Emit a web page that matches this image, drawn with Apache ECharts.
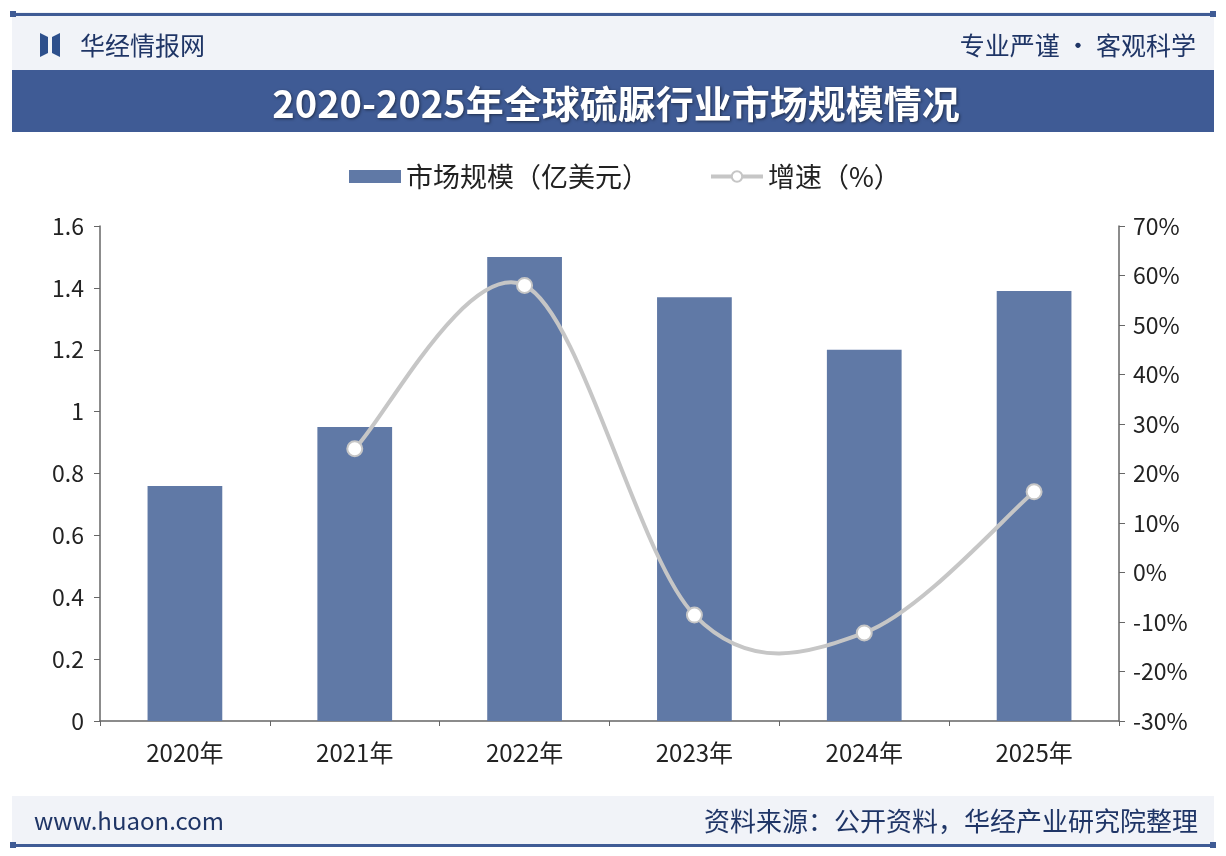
<!DOCTYPE html>
<html><head><meta charset="utf-8">
<script src="https://cdn.jsdelivr.net/npm/echarts@6/dist/echarts.min.js"></script>
<style>html,body{margin:0;padding:0;background:#fff}#c{width:1226px;height:856px}</style>
</head><body><div id="c"></div>
<script>
const categories = ['2020年','2021年','2022年','2023年','2024年','2025年'];
const marketSize = [0.76, 0.95, 1.50, 1.37, 1.20, 1.39];
const growth = [null, 25, 58, -8.6, -12.2, 16.3];
const leftTicks = {min:0, max:1.6, interval:0.2};
const rightTicks = {min:-30, max:70, interval:10};

const font = '"Noto Sans CJK SC", "Noto Sans", sans-serif';
const chart = echarts.init(document.getElementById('c'));

function splineItem(params, api){
  const pts = [];
  growth.forEach((v,i)=>{ if(v!==null && v!==undefined) pts.push(api.coord([i, v])); });
  if(pts.length<2) return null;
  let d = 'M'+pts[0][0]+' '+pts[0][1];
  for(let i=0;i<pts.length-1;i++){
    const p0 = pts[i-1]||pts[i], p1 = pts[i], p2 = pts[i+1], p3 = pts[i+2]||pts[i+1];
    const t = 1/6;
    const c1 = [p1[0]+(p2[0]-p0[0])*t, p1[1]+(p2[1]-p0[1])*t];
    const c2 = [p2[0]-(p3[0]-p1[0])*t, p2[1]-(p3[1]-p1[1])*t];
    d += ' C'+c1[0]+' '+c1[1]+' '+c2[0]+' '+c2[1]+' '+p2[0]+' '+p2[1];
  }
  return {type:'path',shape:{pathData:d},style:{stroke:'#c6c6c6',lineWidth:4,fill:null}};
}

chart.setOption({
  backgroundColor:'#fff',
  textStyle:{fontFamily:font},
  graphic:[
    {type:'rect',shape:{x:12,y:12,width:1202,height:58},style:{fill:'#f1f3f8'},z:-1},
    {type:'rect',shape:{x:12,y:13,width:1202,height:3},style:{fill:'#3f5b95'}},
    {type:'rect',shape:{x:10,y:11,width:6,height:6},style:{fill:'#3f5b95'}},
    {type:'rect',shape:{x:1210,y:11,width:6,height:6},style:{fill:'#3f5b95'}},
    {type:'polygon',shape:{points:[[40,33],[48,37],[48,53],[40,57]]},style:{fill:'#2d4f8c'}},
    {type:'polygon',shape:{points:[[52,37],[60,33],[60,57],[52,53]]},style:{fill:'#2d4f8c'}},
    {type:'text',x:80,y:45,style:{text:'华经情报网',font:'25px '+font,fill:'#1f3566',verticalAlign:'middle'}},
    {type:'text',x:1196,y:45,style:{text:'专业严谨 • 客观科学',font:'25px '+font,fill:'#1f3566',align:'right',verticalAlign:'middle'}},
    {type:'rect',shape:{x:12,y:70,width:1202,height:62},style:{fill:'#3f5b95'}},
    {type:'text',x:616,y:104,style:{text:'2020-2025年全球硫脲行业市场规模情况',font:'bold 38px '+font,fill:'#ffffff',align:'center',verticalAlign:'middle',textShadowColor:'rgba(0,0,0,0.5)',textShadowBlur:3,textShadowOffsetX:1,textShadowOffsetY:1}},
    {type:'rect',shape:{x:12,y:796,width:1202,height:48},style:{fill:'#f1f3f8'},z:-1},
    {type:'rect',shape:{x:12,y:844,width:1202,height:3},style:{fill:'#3f5b95'}},
    {type:'rect',shape:{x:10,y:842,width:6,height:6},style:{fill:'#3f5b95'}},
    {type:'rect',shape:{x:1210,y:842,width:6,height:6},style:{fill:'#3f5b95'}},
    {type:'text',x:34,y:821,style:{text:'www.huaon.com',font:'24px '+font,fill:'#1f3566',verticalAlign:'middle'}},
    {type:'text',x:1198,y:821,style:{text:'资料来源：公开资料，华经产业研究院整理',font:'26px '+font,fill:'#1f3566',align:'right',verticalAlign:'middle'}}
  ],
  legend:{
    top:158, left:344, itemGap:60, itemWidth:52, itemHeight:13,
    textStyle:{fontSize:27,color:'#222',fontFamily:font},
    data:[
      {name:'市场规模（亿美元）',icon:'rect'},
      {name:'增速（%）',lineStyle:{color:'#c6c6c6',width:4,opacity:1}}
    ]
  },
  grid:{left:100,right:107,top:226,bottom:135,containLabel:false},
  xAxis:{
    type:'category', data:categories,
    axisLine:{lineStyle:{color:'#666',width:1.5}},
    axisTick:{show:true,lineStyle:{color:'#666'}},
    axisLabel:{fontSize:24,color:'#222',margin:20}
  },
  yAxis:[
    {type:'value',min:leftTicks.min,max:leftTicks.max,interval:leftTicks.interval,
     axisLine:{show:true,lineStyle:{color:'#666',width:1.5}},axisTick:{show:true,length:6,lineStyle:{color:'#666'}},
     splitLine:{show:false},
     axisLabel:{fontSize:23,color:'#222',margin:16,formatter:v=>String(Math.round(v*10)/10)}},
    {type:'value',min:rightTicks.min,max:rightTicks.max,interval:rightTicks.interval,position:'right',
     axisLine:{show:true,lineStyle:{color:'#666',width:1.5}},axisTick:{show:true,length:6,lineStyle:{color:'#666'}},
     splitLine:{show:false},
     axisLabel:{fontSize:23,color:'#222',margin:14,formatter:v=>Math.round(v)+'%'}}
  ],
  series:[
    {name:'市场规模（亿美元）',type:'bar',data:marketSize,barWidth:'44%',
     itemStyle:{color:'#6079a6'}},
    {name:'增速曲线',type:'custom',yAxisIndex:1,coordinateSystem:'cartesian2d',
     data:[[1, growth[1]]],renderItem:splineItem,silent:true,z:3},
    {name:'增速（%）',type:'line',yAxisIndex:1,data:growth,
     symbol:'circle',symbolSize:15,connectNulls:false,z:4,
     lineStyle:{color:'#c6c6c6',width:4,opacity:0},
     itemStyle:{color:'#ffffff',borderColor:'#c6c6c6',borderWidth:2}}
  ]
});
</script></body></html>
